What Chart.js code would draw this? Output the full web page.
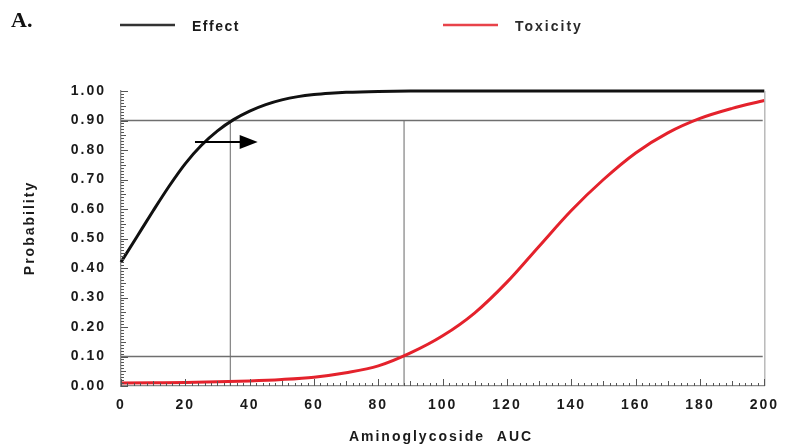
<!DOCTYPE html>
<html>
<head>
<meta charset="utf-8">
<script src="https://cdn.jsdelivr.net/npm/chart.js@4"></script>
<style>
  html, body { margin: 0; padding: 0; background: #fff; }
  #wrap { width: 787px; height: 446px; }
</style>
</head>
<body>
<div id="wrap"><canvas id="probChart"></canvas></div>
<script>
// effect curve (probability vs aminoglycoside AUC)
const effectAUC = [0, 5, 10, 15, 20, 25, 30, 35, 40, 45, 50, 55, 60, 65, 70, 80, 90, 120, 160, 200];
const effectProb = [0.42, 0.507, 0.594, 0.678, 0.754, 0.816, 0.865, 0.903, 0.932, 0.954, 0.970, 0.981, 0.988, 0.9925, 0.9955, 0.9985, 0.9997, 1.0, 1.0, 1.0];

// toxicity curve
const toxAUC = [0, 10, 20, 30, 40, 50, 60, 70, 80, 90, 100, 110, 120, 130, 140, 150, 160, 170, 180, 190, 200];
const toxProb = [0.010, 0.011, 0.012, 0.014, 0.017, 0.022, 0.030, 0.045, 0.068, 0.112, 0.170, 0.248, 0.352, 0.474, 0.595, 0.700, 0.790, 0.858, 0.907, 0.941, 0.968];

// reference lines
const refLevels = [0.1, 0.9];
const refAUC = [34, 88];

// arrow annotation
const arrowAUC = [23, 42.5];
const arrowProb = 0.827;

const xTicks = [0, 20, 40, 60, 80, 100, 120, 140, 160, 180, 200];
const yTicks = [0, 0.1, 0.2, 0.3, 0.4, 0.5, 0.6, 0.7, 0.8, 0.9, 1.0];

const toPts = (xs, ys) => xs.map((x, i) => ({ x: x, y: ys[i] }));

const refSets = [];
refLevels.forEach(lv => {
  refSets.push({
    data: [{ x: 0, y: lv }, { x: 199.5, y: lv }],
    borderColor: '#6f6f6f', borderWidth: 1.3, pointRadius: 0, tension: 0
  });
});
refAUC.forEach(a => {
  refSets.push({
    data: [{ x: a, y: 0 }, { x: a, y: 0.9 }],
    borderColor: '#8a8a8a', borderWidth: 1.3, pointRadius: 0, tension: 0
  });
});

const FONT = 'Liberation Sans, Arial, sans-serif';

const decor = {
  id: 'decor',
  beforeDraw(chart) {
    chart.ctx.letterSpacing = '2px';
  },
  afterDraw(chart) {
    const ctx = chart.ctx;
    const xs = chart.scales.x, ys = chart.scales.y;
    const area = chart.chartArea;
    ctx.save();

    // right border
    ctx.strokeStyle = '#a8a8a8';
    ctx.lineWidth = 1.2;
    ctx.beginPath();
    ctx.moveTo(area.right + 0.5, area.top);
    ctx.lineTo(area.right + 0.5, area.bottom);
    ctx.stroke();

    // inner minor ticks
    ctx.strokeStyle = '#555';
    ctx.lineWidth = 1;
    ctx.beginPath();
    for (let v = 0; v <= 200; v += 2) {
      const px = Math.round(xs.getPixelForValue(v)) + 0.5;
      const len = v % 20 === 0 ? 7 : (v % 10 === 0 ? 5 : 3);
      ctx.moveTo(px, area.bottom);
      ctx.lineTo(px, area.bottom - len);
    }
    for (let k = 0; k <= 100; k++) {
      const py = Math.round(ys.getPixelForValue(k / 100)) + 0.5;
      const len = k % 10 === 0 ? 7 : (k % 5 === 0 ? 5 : 3);
      ctx.moveTo(area.left, py);
      ctx.lineTo(area.left + len, py);
    }
    ctx.stroke();

    // arrow
    const ax0 = xs.getPixelForValue(arrowAUC[0]);
    const ax1 = xs.getPixelForValue(arrowAUC[1]);
    const ay = ys.getPixelForValue(arrowProb);
    ctx.strokeStyle = '#000';
    ctx.fillStyle = '#000';
    ctx.lineWidth = 2;
    ctx.beginPath();
    ctx.moveTo(ax0, ay);
    ctx.lineTo(ax1 - 16, ay);
    ctx.stroke();
    ctx.beginPath();
    ctx.moveTo(ax1, ay);
    ctx.lineTo(ax1 - 18, ay - 7);
    ctx.lineTo(ax1 - 18, ay + 7);
    ctx.closePath();
    ctx.fill();

    // panel letter
    ctx.letterSpacing = '0px';
    ctx.fillStyle = '#111';
    ctx.font = 'bold 22px Liberation Serif, serif';
    ctx.textBaseline = 'middle';
    ctx.textAlign = 'left';
    ctx.fillText('A.', 11, 21);

    // legend
    ctx.lineWidth = 2.5;
    ctx.strokeStyle = '#333';
    ctx.beginPath(); ctx.moveTo(120, 25); ctx.lineTo(175, 25); ctx.stroke();
    ctx.strokeStyle = '#e8434a';
    ctx.beginPath(); ctx.moveTo(443, 25); ctx.lineTo(498, 25); ctx.stroke();
    ctx.fillStyle = '#1a1a1a';
    ctx.font = 'bold 14px ' + FONT;
    ctx.letterSpacing = '1.5px';
    ctx.fillText('Effect', 192, 27);
    ctx.letterSpacing = '2px';
    ctx.fillStyle = '#2a2a2a';
    ctx.fillText('Toxicity', 515, 27);

    // axis titles
    ctx.fillStyle = '#1a1a1a';
    ctx.letterSpacing = '2px';
    ctx.textAlign = 'center';
    ctx.fillText('Aminoglycoside  AUC', 441, 437);
    ctx.translate(30, 228);
    ctx.rotate(-Math.PI / 2);
    ctx.fillText('Probability', 0, 0);
    ctx.restore();
  }
};

new Chart(document.getElementById('probChart').getContext('2d'), {
  type: 'line',
  data: {
    datasets: [
      {
        label: 'Effect',
        data: toPts(effectAUC, effectProb),
        borderColor: '#111',
        borderWidth: 3,
        pointRadius: 0,
        cubicInterpolationMode: 'monotone',
        clip: 6
      },
      {
        label: 'Toxicity',
        data: toPts(toxAUC, toxProb),
        borderColor: '#e4222c',
        borderWidth: 3,
        pointRadius: 0,
        cubicInterpolationMode: 'monotone',
        clip: 6
      }
    ].concat(refSets)
  },
  options: {
    responsive: true,
    maintainAspectRatio: false,
    animation: false,
    events: [],
    layout: { padding: { top: 91, right: 20, left: 0, bottom: 0 } },
    plugins: { legend: { display: false }, tooltip: { enabled: false } },
    scales: {
      x: {
        type: 'linear',
        min: 0, max: 200,
        afterFit: s => { s.height = 60; },
        afterBuildTicks: s => { s.ticks = xTicks.map(v => ({ value: v })); },
        grid: { display: false, drawTicks: false },
        border: { display: true, color: '#8a8a8a', width: 1.3 },
        ticks: {
          padding: 11,
          maxRotation: 0,
          color: '#1a1a1a',
          font: { family: FONT, size: 14, weight: 'bold' }
        }
      },
      y: {
        min: 0, max: 1,
        afterFit: s => { s.width = 121; },
        afterBuildTicks: s => { s.ticks = yTicks.map(v => ({ value: v })); },
        grid: { display: false, drawTicks: false },
        border: { display: true, color: '#8a8a8a', width: 1.3 },
        ticks: {
          padding: 15,
          color: '#1a1a1a',
          font: { family: FONT, size: 14, weight: 'bold' },
          callback: v => Number(v).toFixed(2)
        }
      }
    }
  },
  plugins: [decor]
});
</script>
</body>
</html>
